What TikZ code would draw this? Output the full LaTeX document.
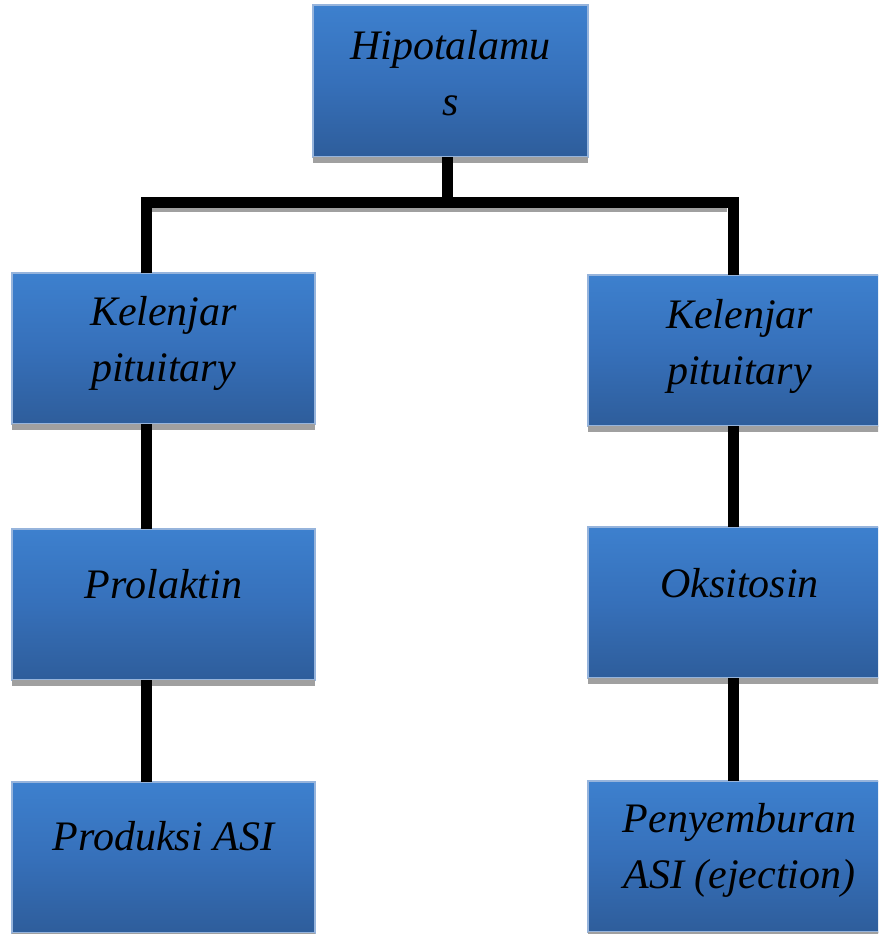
\documentclass[tikz,border=0pt]{standalone}
\usepackage{fontspec}
\setmainfont{Liberation Serif}
\usetikzlibrary{calc}
\definecolor{boxtop}{RGB}{61,128,206}
\definecolor{boxmid}{RGB}{54,112,186}
\definecolor{boxbot}{RGB}{46,93,155}
\definecolor{boxline}{RGB}{150,180,220}
\definecolor{shadowgray}{RGB}{160,160,160}
\begin{document}
\begin{tikzpicture}[x=1pt,y=-1pt,
  box/.style={rectangle, inner sep=0pt, outer sep=0pt, anchor=north west,
    minimum width=303pt, minimum height=151pt, draw=boxline, line width=1.2pt,
    top color=boxtop, bottom color=boxbot, middle color=boxmid},
  lbl/.style={font=\fontsize{42}{56}\selectfont\itshape, align=center,
    anchor=base, inner sep=0pt},
  conn/.style={line width=11pt, black, line join=miter, line cap=butt},
  shad/.style={fill=shadowgray, draw=none}]
\useasboundingbox (0,0) rectangle (878,934);
\clip (0,0) rectangle (878,934);
% boxes
\node[box, minimum width=275pt, minimum height=152pt] (hyp) at (313,5) {};
\node[box] (kl) at (12,273) {};
\node[box] (pr) at (12,529) {};
\node[box] (pa) at (12,782) {};
\node[box] (kr) at (588,275) {};
\node[box] (ok) at (588,527) {};
\node[box] (pe) at (588,781) {};
% shadows
\fill[shad] (hyp.south west) rectangle ++(275,6);
\fill[shad] (kl.south west) rectangle ++(303,6);
\fill[shad] (pr.south west) rectangle ++(303,6);
\fill[shad] (kr.south west) rectangle ++(303,6);
\fill[shad] (ok.south west) rectangle ++(303,6);
\fill[shad] (pa.south west) rectangle ++(303,2);
\fill[shad] (pe.south west) rectangle ++(303,2);
\fill[shad] (152,207) rectangle (727,212);
% connectors
\coordinate (busL) at (146,202);
\coordinate (busR) at (733.5,202);
\coordinate (hypdown) at (447.5,202);
\draw[conn] (hyp.south -| hypdown) -- (hypdown);
\draw[conn] (kl.north -| busL) |- (busR) -- (kr.north -| busR);
\draw[conn] (kl.south -| busL) -- (pr.north -| busL);
\draw[conn] (pr.south -| busL) -- (pa.north -| busL);
\draw[conn] (kr.south -| busR) -- (ok.north -| busR);
\draw[conn] (ok.south -| busR) -- (pe.north -| busR);
% labels (base anchor = baseline of the last line)
\node[lbl] (thyp) at ($(hyp.north)+(0,110)$) {Hipotalamu\\s};
\node[lbl] (tkl) at ($(kl.north)+(0,108)$) {Kelenjar\\pituitary};
\node[lbl] (tkr) at ($(kr.north)+(0,109)$) {Kelenjar\\pituitary};
\node[lbl] (tpr) at ($(pr.north)+(0,69)$) {Prolaktin};
\node[lbl] (tok) at ($(ok.north)+(0,70)$) {Oksitosin};
\node[lbl] (tpa) at ($(pa.north)+(0,68)$) {Produksi ASI};
\node[lbl] (tpe) at ($(pe.north)+(0,107)$) {Penyemburan\\ASI (ejection)};
\end{tikzpicture}
\end{document}
